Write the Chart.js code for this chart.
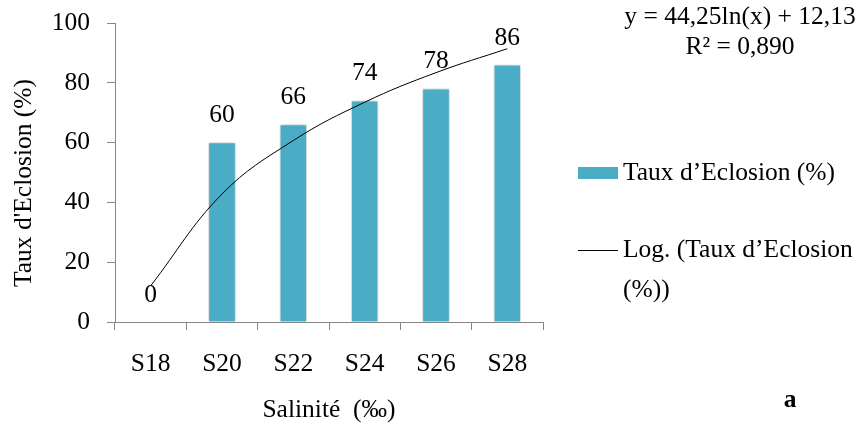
<!DOCTYPE html>
<html>
<head>
<meta charset="utf-8">
<script src="https://cdn.jsdelivr.net/npm/chart.js@4/dist/chart.umd.min.js"></script>
<style>
  html, body { margin: 0; padding: 0; background: #fff; }
  #wrap { width: 859px; height: 430px; position: relative; }
</style>
</head>
<body>
<div id="wrap"><canvas id="c" width="859" height="430"></canvas></div>
<script>
// Hatching rate by salinity
const categories = ['S18', 'S20', 'S22', 'S24', 'S26', 'S28'];
const hatchRate = [0, 60, 66, 74, 78, 86];
// Logarithmic trend y = 44,25 ln(x) + 12,13 at each category
const trendValues = [12.1, 42.8, 60.7, 73.5, 83.4, 91.4];
const yTicks = [0, 20, 40, 60, 80, 100];
const barLabel = 'Taux d\u2019Eclosion (%)';
const trendLabel = 'Log. (Taux d\u2019Eclosion (%))';
const equationLines = ['y = 44,25ln(x) + 12,13', 'R\u00b2 = 0,890'];
const xTitle = 'Salinit\u00e9  (\u2030)';
const yTitle = "Taux d'Eclosion (%)";
const panelTag = 'a';

const FONT = '"Liberation Serif", "Times New Roman", serif';
const FS = 25.5;
const AXIS = '#868686';
const BAR = '#4BACC6';

const barShadow = {
  id: 'barShadow',
  beforeDatasetDraw(chart, args) {
    if (args.meta.type !== 'bar') return;
    const ctx = chart.ctx;
    ctx.save();
    ctx.shadowColor = 'rgba(0,0,0,0.28)';
    ctx.shadowBlur = 5;
    ctx.shadowOffsetX = 0;
    ctx.shadowOffsetY = 0;
  },
  afterDatasetDraw(chart, args) {
    if (args.meta.type !== 'bar') return;
    chart.ctx.restore();
  }
};

const decorations = {
  id: 'decorations',
  afterDraw(chart) {
    const ctx = chart.ctx;
    const area = chart.chartArea;
    ctx.save();
    ctx.fillStyle = '#000';
    ctx.font = FS + 'px ' + FONT;

    // value labels above the bars
    chart.data.datasets.forEach((ds, i) => {
      const meta = chart.getDatasetMeta(i);
      if (meta.type !== 'bar') return;
      ctx.textAlign = 'center';
      ctx.textBaseline = 'middle';
      meta.data.forEach((el, j) => {
        ctx.fillText(String(ds.data[j]), el.x, el.y - 27);
      });
    });

    // axis titles
    ctx.textAlign = 'center';
    ctx.textBaseline = 'middle';
    ctx.fillText(xTitle, (area.left + area.right) / 2, 410);
    ctx.save();
    ctx.translate(24, 183);
    ctx.rotate(-Math.PI / 2);
    ctx.fillText(yTitle, 0, 0);
    ctx.restore();

    // trend equation
    ctx.fillText(equationLines[0], 740, 17);
    ctx.fillText(equationLines[1], 740, 47);

    // legend
    const lx = 578, tx = 623, maxW = 859 - tx;
    const rows = [173, 250];
    chart.data.datasets.slice().reverse().forEach((ds, k) => {
      const y = rows[k];
      if (ds.type === 'bar') {
        ctx.fillStyle = BAR;
        ctx.fillRect(lx, y - 6, 40, 12);
      } else {
        ctx.strokeStyle = '#000';
        ctx.lineWidth = 1;
        ctx.beginPath();
        ctx.moveTo(lx, y + 0.5);
        ctx.lineTo(lx + 40, y + 0.5);
        ctx.stroke();
      }
      ctx.fillStyle = '#000';
      ctx.textAlign = 'left';
      // simple word wrap
      const words = ds.label.split(' ');
      let line = '', ly = y;
      words.forEach(w => {
        const test = line ? line + ' ' + w : w;
        if (ctx.measureText(test).width > maxW && line) {
          ctx.fillText(line, tx, ly);
          line = w;
          ly += 40;
        } else {
          line = test;
        }
      });
      ctx.fillText(line, tx, ly);
    });

    // panel letter
    ctx.font = 'bold ' + FS + 'px ' + FONT;
    ctx.textAlign = 'center';
    ctx.fillText(panelTag, 790, 400);
    ctx.restore();
  }
};

new Chart(document.getElementById('c'), {
  data: {
    labels: categories,
    datasets: [
      {
        type: 'line',
        label: trendLabel,
        data: trendValues,
        borderColor: '#000',
        borderWidth: 1,
        pointRadius: 0,
        tension: 0.4,
        fill: false,
        order: 0
      },
      {
        type: 'bar',
        label: barLabel,
        data: hatchRate,
        backgroundColor: BAR,
        borderColor: '#ffffff',
        borderWidth: 1,
        barThickness: 27,
        order: 1
      }
    ]
  },
  options: {
    responsive: false,
    animation: false,
    devicePixelRatio: 1,
    layout: { padding: { left: 0, right: 316, top: 23, bottom: 0 } },
    plugins: {
      legend: { display: false },
      tooltip: { enabled: false },
      title: { display: false }
    },
    scales: {
      x: {
        type: 'category',
        offset: true,
        grid: {
          display: true,
          offset: true,
          drawOnChartArea: false,
          drawTicks: true,
          tickLength: 8,
          color: AXIS
        },
        border: { color: AXIS, width: 1 },
        ticks: { color: '#000', font: { family: FONT, size: FS }, padding: 19 },
        afterFit(scale) {
          scale.height = 108;
          scale.paddingLeft = 0;
          scale.paddingRight = 0;
        }
      },
      y: {
        min: 0,
        max: 100,
        afterBuildTicks(scale) { scale.ticks = yTicks.map(v => ({ value: v })); },
        grid: {
          display: true,
          drawOnChartArea: false,
          drawTicks: true,
          tickLength: 8,
          color: AXIS
        },
        border: { color: AXIS, width: 1 },
        ticks: { color: '#000', font: { family: FONT, size: FS }, padding: 17 },
        afterFit(scale) {
          scale.width = 115;
          scale.paddingTop = 0;
          scale.paddingBottom = 0;
        }
      }
    }
  },
  plugins: [barShadow, decorations]
});
</script>
</body>
</html>
